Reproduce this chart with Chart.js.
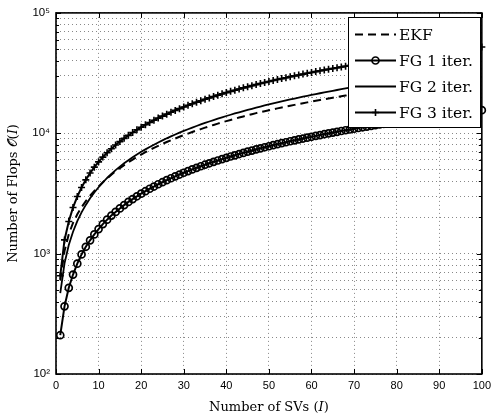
<!DOCTYPE html>
<html>
<head>
<meta charset="utf-8">
<script src="https://cdn.jsdelivr.net/npm/chart.js@4.4.0/dist/chart.umd.min.js"></script>
<style>
  html, body { margin: 0; padding: 0; background: #fff; }
</style>
</head>
<body>
<canvas id="flopsChart" width="496" height="416"></canvas>
<script>
// number of support vectors I = 1..100
const svCount = Array.from({ length: 100 }, (_, i) => i + 1);

const ekfFlops = [
  600, 1050, 1450, 1800, 2120, 2430, 2730, 3030, 3320, 3610,
  3920, 4220, 4530, 4830, 5140, 5440, 5750, 6050, 6360, 6660,
  6970, 7270, 7570, 7860, 8160, 8460, 8760, 9050, 9350, 9650,
  9940, 10240, 10540, 10830, 11130, 11430, 11730, 12020, 12320, 12620,
  12910, 13210, 13510, 13800, 14100, 14400, 14700, 14980, 15260, 15540,
  15820, 16100, 16380, 16660, 16940, 17220, 17500, 17780, 18060, 18340,
  18620, 18900, 19180, 19460, 19740, 20020, 20300, 20580, 20850, 21130,
  21400, 21680, 21950, 22230, 22500, 22780, 23050, 23330, 23600, 23880,
  24150, 24430, 24700, 24980, 25250, 25530, 25800, 26080, 26350, 26630,
  26900, 27180, 27450, 27730, 28000, 28280, 28550, 28830, 29100, 29380
];

const fg1Flops = [
  210, 365, 520, 670, 825, 985, 1140, 1290, 1445, 1600,
  1760, 1915, 2070, 2220, 2375, 2530, 2690, 2840, 2995, 3150,
  3300, 3460, 3610, 3770, 3920, 4080, 4230, 4390, 4540, 4700,
  4850, 5010, 5160, 5320, 5480, 5630, 5790, 5940, 6100, 6250,
  6410, 6560, 6720, 6870, 7030, 7180, 7340, 7490, 7650, 7800,
  7960, 8110, 8270, 8420, 8580, 8730, 8890, 9040, 9200, 9350,
  9510, 9660, 9820, 9970, 10130, 10280, 10440, 10590, 10750, 10900,
  11060, 11210, 11370, 11520, 11680, 11830, 11990, 12140, 12300, 12450,
  12610, 12760, 12920, 13070, 13230, 13380, 13540, 13690, 13850, 14000,
  14160, 14310, 14470, 14620, 14780, 14930, 15090, 15240, 15400, 15550
];

const fg2Flops = [
  470, 830, 1180, 1520, 1860, 2200, 2540, 2880, 3220, 3560,
  3900, 4250, 4590, 4940, 5280, 5630, 5970, 6320, 6660, 7010,
  7350, 7700, 8040, 8390, 8730, 9080, 9420, 9770, 10110, 10460,
  10800, 11150, 11490, 11840, 12180, 12530, 12870, 13220, 13560, 13910,
  14250, 14600, 14940, 15290, 15630, 15980, 16320, 16670, 17010, 17360,
  17700, 18050, 18390, 18740, 19080, 19430, 19770, 20120, 20460, 20810,
  21150, 21500, 21840, 22190, 22530, 22880, 23220, 23570, 23910, 24260,
  24600, 24950, 25290, 25640, 25980, 26330, 26670, 27020, 27360, 27710,
  28050, 28400, 28740, 29090, 29430, 29780, 30120, 30470, 30810, 31160,
  31500, 31850, 32190, 32540, 32880, 33230, 33570, 33920, 34260, 34610
];

const fg3Flops = [
  655, 1300, 1850, 2420, 2980, 3540, 4100, 4670, 5230, 5790,
  6340, 6890, 7440, 7980, 8530, 9070, 9610, 10150, 10690, 11230,
  11760, 12300, 12830, 13360, 13890, 14420, 14950, 15490, 16020, 16550,
  17070, 17590, 18120, 18640, 19160, 19680, 20200, 20730, 21250, 21770,
  22290, 22800, 23320, 23830, 24350, 24860, 25380, 25890, 26410, 26920,
  27430, 27940, 28450, 28960, 29470, 29980, 30490, 31000, 31510, 32020,
  32530, 33030, 33540, 34040, 34550, 35050, 35560, 36060, 36570, 37070,
  37570, 38070, 38580, 39080, 39580, 40080, 40580, 41090, 41590, 42090,
  42590, 43090, 43580, 44080, 44580, 45080, 45580, 46070, 46570, 47070,
  47560, 48060, 48550, 49050, 49540, 50040, 50530, 51030, 51520, 52020
];

const seriesNames = ["EKF", "FG 1 iter.", "FG 2 iter.", "FG 3 iter."];

const yTickLabels = { 100: "10²", 1000: "10³", 10000: "10⁴", 100000: "10⁵" };
const yGridValues = [];
[100, 1000, 10000].forEach(d => {
  for (let m = 1; m <= 9; m++) yGridValues.push(d * m);
});
yGridValues.push(100000);

const toPoints = vals => vals.map((v, i) => ({ x: svCount[i], y: v }));

// box around the axes + little inward tick marks, matlab style
const frameTicks = {
  id: "frameTicks",
  beforeDatasetsDraw(chart) {
    const { ctx, chartArea: a, scales } = chart;
    ctx.save();
    ctx.setLineDash([]);
    ctx.strokeStyle = "#000";
    ctx.lineWidth = 1;
    ctx.beginPath();
    scales.x.ticks.forEach(t => {
      const px = Math.round(scales.x.getPixelForValue(t.value)) + 0.5;
      ctx.moveTo(px, a.bottom);
      ctx.lineTo(px, a.bottom - 5);
      ctx.moveTo(px, a.top);
      ctx.lineTo(px, a.top + 5);
    });
    scales.y.ticks.forEach(t => {
      const len = yTickLabels[t.value] ? 5 : 3;
      const py = Math.round(scales.y.getPixelForValue(t.value)) + 0.5;
      ctx.moveTo(a.left, py);
      ctx.lineTo(a.left + len, py);
      ctx.moveTo(a.right, py);
      ctx.lineTo(a.right - len, py);
    });
    ctx.stroke();
    ctx.lineWidth = 1.6;
    ctx.strokeRect(a.left, a.top, a.right - a.left, a.bottom - a.top);
    ctx.restore();
  }
};

// legend with a border, drawn inside the plot (top right)
const boxLegend = {
  id: "boxLegend",
  afterDatasetsDraw(chart) {
    const { ctx } = chart;
    const left = 348.5, top = 17.5, w = 132, h = 110;
    ctx.save();
    ctx.fillStyle = "#fff";
    ctx.fillRect(left, top, w, h);
    ctx.strokeStyle = "#000";
    ctx.lineWidth = 1;
    ctx.setLineDash([]);
    ctx.strokeRect(left, top, w, h);

    chart.data.datasets.forEach((ds, i) => {
      const y = top + 17 + i * 26;
      ctx.strokeStyle = ds.borderColor;
      ctx.lineWidth = ds.borderWidth;
      ctx.setLineDash(ds.borderDash || []);
      ctx.beginPath();
      ctx.moveTo(355, y);
      ctx.lineTo(396, y);
      ctx.stroke();
      ctx.setLineDash([]);
      if (ds.pointRadius > 0) {
        ctx.fillStyle = ds.pointBackgroundColor;
        ctx.strokeStyle = ds.pointBorderColor;
        ctx.lineWidth = ds.pointBorderWidth;
        Chart.helpers.drawPoint(ctx, {
          pointStyle: ds.pointStyle,
          radius: ds.pointRadius,
          borderWidth: ds.pointBorderWidth,
          rotation: 0
        }, 375.5, y);
      }
      ctx.fillStyle = "#000";
      ctx.font = '15.5px "DejaVu Serif"';
      ctx.textAlign = "left";
      ctx.textBaseline = "middle";
      ctx.fillText(ds.label, 399, y + 1);
    });
    ctx.restore();
  }
};

const ctx = document.getElementById("flopsChart").getContext("2d");

new Chart(ctx, {
  type: "line",
  data: {
    datasets: [
      {
        label: seriesNames[0],
        data: toPoints(ekfFlops),
        borderColor: "#000",
        borderWidth: 2,
        borderDash: [8, 5],
        pointRadius: 0
      },
      {
        label: seriesNames[1],
        data: toPoints(fg1Flops),
        borderColor: "#000",
        borderWidth: 2,
        pointStyle: "circle",
        pointRadius: 3.5,
        pointBorderWidth: 1.7,
        pointBorderColor: "#000",
        pointBackgroundColor: "rgba(0,0,0,0)"
      },
      {
        label: seriesNames[2],
        data: toPoints(fg2Flops),
        borderColor: "#000",
        borderWidth: 1.8,
        pointRadius: 0
      },
      {
        label: seriesNames[3],
        data: toPoints(fg3Flops),
        borderColor: "#000",
        borderWidth: 2,
        pointStyle: "cross",
        pointRadius: 3.5,
        pointBorderWidth: 1.6,
        pointBorderColor: "#000",
        pointBackgroundColor: "#000"
      }
    ]
  },
  options: {
    responsive: false,
    animation: false,
    devicePixelRatio: 1,
    layout: { padding: { top: 10, right: 10, left: 0, bottom: 0 } },
    elements: { line: { tension: 0 } },
    datasets: { line: { clip: false } },
    scales: {
      x: {
        type: "linear",
        min: 0,
        max: 100,
        afterFit: s => { s.height = 42; },
        ticks: {
          stepSize: 10,
          autoSkip: false,
          maxRotation: 0,
          padding: 5,
          color: "#000",
          font: { family: "'Liberation Sans', Arial, sans-serif", size: 11 }
        },
        grid: { color: "#888", lineWidth: 1, drawTicks: false },
        border: { display: false, dash: [1, 3] },
        title: {
          display: true,
          text: "Number of SVs (𝐼)",
          color: "#000",
          font: { family: "'DejaVu Serif', serif", size: 13 },
          padding: { top: 0, bottom: 1 }
        }
      },
      y: {
        type: "logarithmic",
        min: 100,
        max: 100000,
        afterFit: s => { s.width = 56; },
        afterBuildTicks: s => { s.ticks = yGridValues.map(v => ({ value: v })); },
        ticks: {
          autoSkip: false,
          padding: 6,
          color: "#000",
          font: { family: "'Liberation Sans', Arial, sans-serif", size: 11.5 },
          callback: v => yTickLabels[v] ?? ""
        },
        grid: { color: "#888", lineWidth: 1, drawTicks: false },
        border: { display: false, dash: [1, 3] },
        title: {
          display: true,
          text: "Number of Flops 𝒪(𝐼)",
          color: "#000",
          font: { family: "'DejaVu Serif', serif", size: 13 },
          padding: { top: 6, bottom: 0 }
        }
      }
    },
    plugins: {
      legend: { display: false },
      tooltip: { enabled: false }
    }
  },
  plugins: [frameTicks, boxLegend]
});
</script>
</body>
</html>
